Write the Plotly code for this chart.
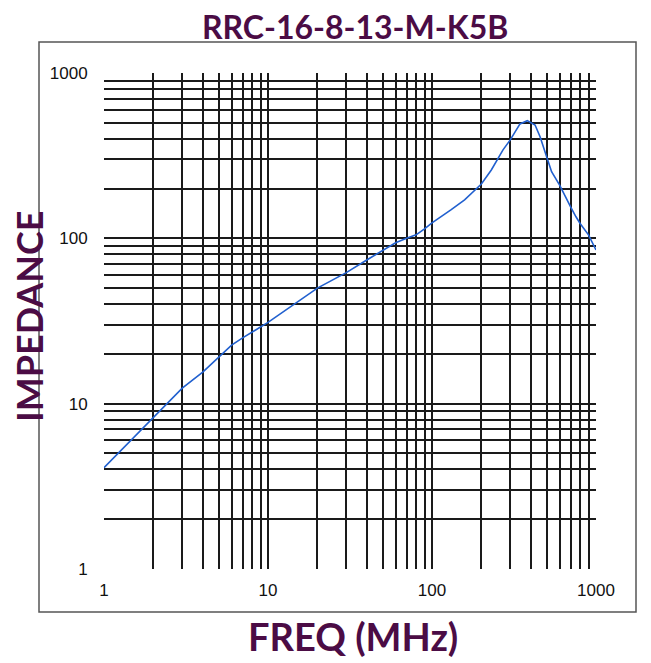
import plotly.graph_objects as go

# Data
freq_mhz = [1, 2, 3, 4, 5, 6, 7, 8, 9, 10, 20, 30, 40, 50, 60, 70, 80, 90, 100,
            131, 158, 200, 230, 271, 300, 344, 381, 425, 456, 500, 536, 600, 647,
            700, 755, 800, 900, 1000]
impedance = [4.1, 8.3, 12.4, 15.5, 19.2, 22.6, 25, 27, 29, 31, 50, 62, 74, 84, 94, 100, 105, 114, 124,
             149, 171, 213, 259, 343, 394, 492, 515, 485, 412, 312, 253, 210, 179,
             155, 135, 123, 105, 85]

grid_vals = [m * 10 ** d for d in range(0, 3) for m in range(1, 10)] + [1000]
major_labels = {1: "1", 10: "10", 100: "100", 1000: "1000"}
tick_text = [major_labels.get(v, "") for v in grid_vals]

title_text = "RRC-16-8-13-M-K5B"
x_title = "FREQ (MHz)"
y_title = "IMPEDANCE"

purple = "#4B0C45"
fam = "Lato, DejaVu Sans, sans-serif"

fig = go.Figure()
fig.add_trace(go.Scatter(x=freq_mhz, y=impedance, mode="lines",
                         line=dict(color="#2160CF", width=1.6),
                         hoverinfo="x+y", showlegend=False))

axis_common = dict(type="log", showgrid=True, gridcolor="#1a1a1a", gridwidth=1.6,
                   zeroline=False, showline=False, tickmode="array",
                   tickvals=grid_vals, ticktext=tick_text,
                   ticks="outside", tickcolor="rgba(0,0,0,0)",
                   tickfont=dict(family="Liberation Sans, Arial, sans-serif", size=17, color="#111"))

fig.update_xaxes(range=[0, 3], ticklen=6, **axis_common)
fig.update_yaxes(range=[0, 3], ticklen=12, **axis_common)

fig.update_layout(
    width=651, height=663,
    margin=dict(l=96, r=63, t=65, b=102),
    paper_bgcolor="white", plot_bgcolor="white",
    shapes=[dict(type="rect", xref="paper", yref="paper",
                 x0=(39 - 104) / 492, x1=(636 - 104) / 492,
                 y0=(569 - 612) / 496, y1=(569 - 42) / 496,
                 line=dict(color="#555", width=1.5), fillcolor="rgba(0,0,0,0)", layer="below")],
    annotations=[
        dict(text="<b>%s</b>" % title_text, xref="paper", yref="paper",
             x=(355 - 104) / 492, y=(569 - 26) / 496, showarrow=False,
             xanchor="center", yanchor="middle",
             font=dict(family=fam, size=32, color=purple, weight=900)),
        dict(text="<b>%s</b>" % x_title, xref="paper", yref="paper",
             x=(353 - 104) / 492, y=(569 - 636) / 496, showarrow=False,
             xanchor="center", yanchor="middle",
             font=dict(family=fam, size=38, color=purple, weight=900)),
        dict(text="<b>%s</b>" % y_title, xref="paper", yref="paper",
             x=(29 - 104) / 492, y=(569 - 316) / 496, showarrow=False, textangle=-90,
             xanchor="center", yanchor="middle",
             font=dict(family=fam, size=36, color=purple, weight=900)),
    ],
)

fig.write_html("out.html")
